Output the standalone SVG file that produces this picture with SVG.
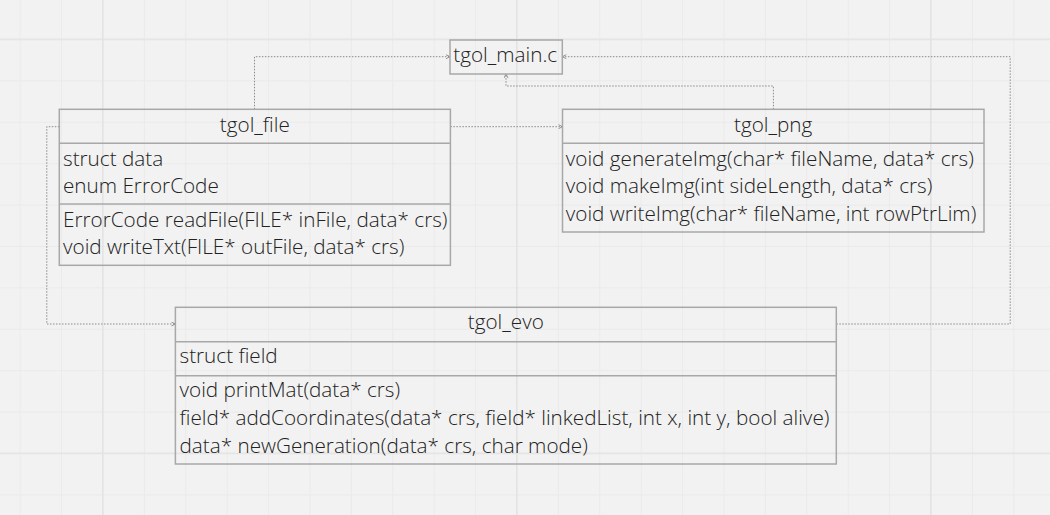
<svg xmlns="http://www.w3.org/2000/svg" width="1050" height="515" viewBox="0 0 1050 515">
<defs>
<pattern id="minor" x="19.7" y="39" width="41.4" height="41.4" patternUnits="userSpaceOnUse">
<rect x="0" y="0" width="1" height="41.4" fill="#eaeaea"/>
<rect x="0" y="0" width="41.4" height="1" fill="#eaeaea"/>
</pattern>
<pattern id="major" x="102" y="38.5" width="414" height="414" patternUnits="userSpaceOnUse">
<rect x="0" y="0" width="1.5" height="414" fill="#e3e3e3"/>
<rect x="0" y="0" width="414" height="1.5" fill="#e3e3e3"/>
</pattern>
<marker id="arr" viewBox="0 0 10 10" refX="9" refY="5" markerWidth="5" markerHeight="5" markerUnits="userSpaceOnUse" orient="auto">
<path d="M1,1 L9,5 L1,9" fill="none" stroke="#7a7a7a" stroke-width="1.6"/>
</marker>
</defs>
<style>
.box{fill:none;stroke:#a8a8a8;stroke-width:1.5}
.sep{stroke:#a8a8a8;stroke-width:1.5}
.t{font-family:"Open Sans","Noto Sans",sans-serif;font-size:20.7px;font-weight:300;fill:#222222}
.c{text-anchor:middle}
.con{fill:none;stroke:#8a8a8a;stroke-width:1;stroke-dasharray:1.5 1.5}
</style>
<rect width="1050" height="515" fill="#f2f2f2"/>
<rect width="1050" height="515" fill="url(#minor)"/>
<rect width="1050" height="515" fill="url(#major)"/>

<g id="connectors">
<polyline class="con" points="254.5,109.3 254.5,56.7 450,56.7" marker-end="url(#arr)"/>
<polyline class="con" points="773.4,109.3 773.4,86 506,86 506,74" marker-end="url(#arr)"/>
<polyline class="con" points="450.4,126.7 562.5,126.7" marker-end="url(#arr)"/>
<polyline class="con" points="59.3,126.7 46.8,126.7 46.8,324 175.4,324" marker-end="url(#arr)"/>
<polyline class="con" points="836.3,324 1010.2,324 1010.2,56.7 562.3,56.7" marker-end="url(#arr)"/>
</g>

<g id="tgol_main">
<rect class="box" x="450" y="40" width="112.3" height="34"/>
<text class="t" x="453.3" y="62.3">tgol_main.c</text>
</g>

<g id="tgol_file">
<rect class="box" x="59.3" y="109.3" width="391.1" height="156"/>
<line class="sep" x1="59.3" y1="143.3" x2="450.4" y2="143.3"/>
<line class="sep" x1="59.3" y1="204" x2="450.4" y2="204"/>
<text class="t c" x="254.8" y="132.3">tgol_file</text>
<text class="t" x="63" y="166">struct data</text>
<text class="t" x="63" y="193.3">enum ErrorCode</text>
<text class="t" x="63" y="227.3">ErrorCode readFile(FILE* inFile, data* crs)</text>
<text class="t" x="63" y="254.3">void writeTxt(FILE* outFile, data* crs)</text>
</g>

<g id="tgol_png">
<rect class="box" x="562.5" y="109.3" width="421.5" height="122.7"/>
<line class="sep" x1="562.5" y1="143.3" x2="984" y2="143.3"/>
<text class="t c" x="773.2" y="132.3">tgol_png</text>
<text class="t" x="565.8" y="166">void generateImg(char* fileName, data* crs)</text>
<text class="t" x="565.8" y="193.3">void makeImg(int sideLength, data* crs)</text>
<text class="t" x="565.8" y="220.7">void writeImg(char* fileName, int rowPtrLim)</text>
</g>

<g id="tgol_evo">
<rect class="box" x="175.4" y="307.3" width="660.9" height="156.7"/>
<line class="sep" x1="175.4" y1="341.7" x2="836.3" y2="341.7"/>
<line class="sep" x1="175.4" y1="375.7" x2="836.3" y2="375.7"/>
<text class="t c" x="505.8" y="329.3">tgol_evo</text>
<text class="t" x="179.5" y="363.3">struct field</text>
<text class="t" x="179.5" y="397.3">void printMat(data* crs)</text>
<text class="t" x="179.5" y="425">field* addCoordinates(data* crs, field* linkedList, int x, int y, bool alive)</text>
<text class="t" x="179.5" y="452.7">data* newGeneration(data* crs, char mode)</text>
</g>
</svg>
